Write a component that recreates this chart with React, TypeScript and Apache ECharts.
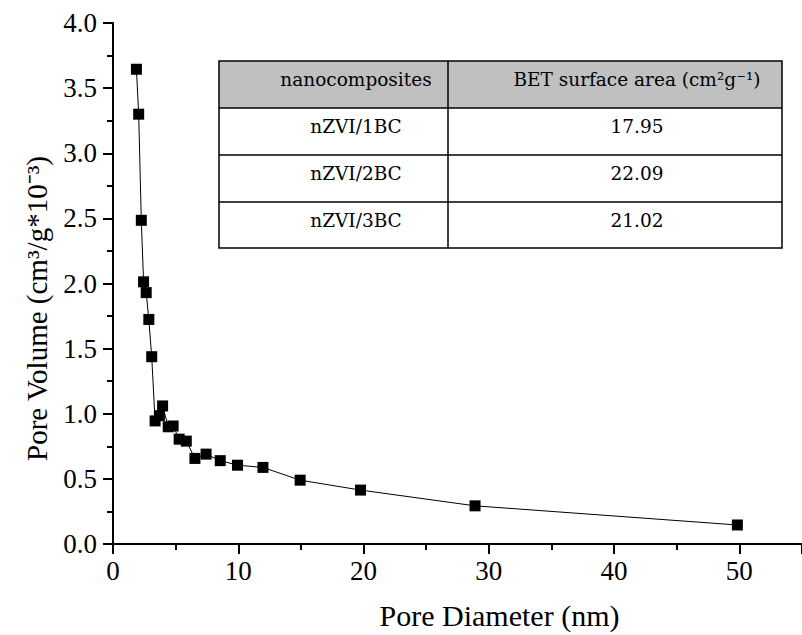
import React, { useEffect, useRef } from "react";
import * as echarts from "echarts";

const poreDiameter = [1.87, 2.05, 2.26, 2.44, 2.65, 2.86, 3.09, 3.36, 3.7, 3.96, 4.41, 4.8, 5.28, 5.85, 6.54, 7.43, 8.56, 9.94, 11.97, 14.94, 19.76, 28.9, 49.84];
const poreVolume = [3.645, 3.3, 2.485, 2.013, 1.93, 1.724, 1.438, 0.945, 0.985, 1.06, 0.9, 0.906, 0.805, 0.79, 0.657, 0.69, 0.64, 0.605, 0.588, 0.49, 0.414, 0.293, 0.146];

const tableHeader = ["nanocomposites", "BET surface area (cm²g⁻¹)"];
const tableNames = ["nZVI/1BC", "nZVI/2BC", "nZVI/3BC"];
const tableValues = ["17.95", "22.09", "21.02"];

const xTitle = "Pore Diameter (nm)";
const yTitle = "Pore Volume (cm³/g*10⁻³)";

export default function App() {
  const ref = useRef<HTMLDivElement>(null);
  useEffect(() => {
    if (!ref.current) return;
    const chart = echarts.init(ref.current, undefined, { renderer: "svg" });
    const font = "Liberation Serif";
    const tFont = "DejaVu Serif";
    const tSize = 18.5;

    const tl = 219, tr = 782, tt = 61, divX = 448;
    const rowLines = [108, 155, 202, 248];
    const tableEls: any[] = [];
    tableEls.push({ type: "rect", shape: { x: tl, y: tt, width: tr - tl, height: rowLines[0] - tt }, style: { fill: "#c0c0c0" }, z: 10 });
    tableEls.push({ type: "rect", shape: { x: tl, y: tt, width: tr - tl, height: rowLines[3] - tt }, style: { fill: "none", stroke: "#000", lineWidth: 1.5 }, z: 12 });
    rowLines.slice(0, 3).forEach((y) => {
      tableEls.push({ type: "line", shape: { x1: tl, y1: y, x2: tr, y2: y }, style: { stroke: "#000", lineWidth: 1.5 }, z: 12 });
    });
    tableEls.push({ type: "line", shape: { x1: divX, y1: tt, x2: divX, y2: rowLines[3] }, style: { stroke: "#000", lineWidth: 1.5 }, z: 12 });
    const col1 = 356, col2 = 637;
    const tStyle = (text: string) => ({ text, font: `${tSize}px "${tFont}"`, fill: "#000", align: "center", verticalAlign: "middle" });
    tableEls.push({ type: "text", x: col1, y: 79, style: tStyle(tableHeader[0]), z: 13 });
    tableEls.push({ type: "text", x: col2, y: 79, style: tStyle(tableHeader[1]), z: 13 });
    tableNames.forEach((n, i) => {
      const y = rowLines[i] + 18;
      tableEls.push({ type: "text", x: col1, y, style: tStyle(n), z: 13 });
      tableEls.push({ type: "text", x: col2, y, style: tStyle(tableValues[i]), z: 13 });
    });

    chart.setOption({
      animation: false,
      backgroundColor: "#fff",
      grid: { left: 113, right: -10, top: 23, bottom: 90, containLabel: false },
      xAxis: {
        type: "value",
        min: 0,
        max: 55,
        interval: 10,
        name: xTitle,
        nameLocation: "middle",
        nameGap: 56,
        nameTextStyle: { fontFamily: font, fontSize: 30, color: "#000", padding: [0, 0, 0, 84] },
        axisLine: { show: true, onZero: false, lineStyle: { color: "#000", width: 2 } },
        axisTick: { show: true, inside: false, length: 10, lineStyle: { color: "#000", width: 2 } },
        minorTick: { show: true, splitNumber: 2, length: 6, lineStyle: { color: "#000", width: 2 } },
        splitLine: { show: false },
        axisLabel: { fontFamily: font, fontSize: 27, color: "#000", margin: 13, showMaxLabel: false },
      },
      yAxis: {
        type: "value",
        min: 0,
        max: 4,
        interval: 0.5,
        name: yTitle,
        nameLocation: "middle",
        nameGap: 62,
        nameRotate: 90,
        nameTextStyle: { fontFamily: font, fontSize: 29, color: "#000", padding: [0, 50, 0, 0] },
        axisLine: { show: true, onZero: false, lineStyle: { color: "#000", width: 2 } },
        axisTick: { show: true, inside: false, length: 10, lineStyle: { color: "#000", width: 2 } },
        minorTick: { show: true, splitNumber: 2, length: 6, lineStyle: { color: "#000", width: 2 } },
        splitLine: { show: false },
        axisLabel: { fontFamily: font, fontSize: 27, color: "#000", margin: 16, formatter: (v: number) => v.toFixed(1) },
      },
      series: [
        {
          type: "line",
          data: poreDiameter.map((x, i) => [x, poreVolume[i]]),
          symbol: "rect",
          symbolSize: 11,
          showAllSymbol: true,
          lineStyle: { color: "#000", width: 1 },
          itemStyle: { color: "#000" },
          z: 5,
        },
      ],
      graphic: tableEls,
    });
    return () => chart.dispose();
  }, []);
  return <div ref={ref} style={{ position: "fixed", left: 0, top: 0, width: 802, height: 635 }} />;
}
